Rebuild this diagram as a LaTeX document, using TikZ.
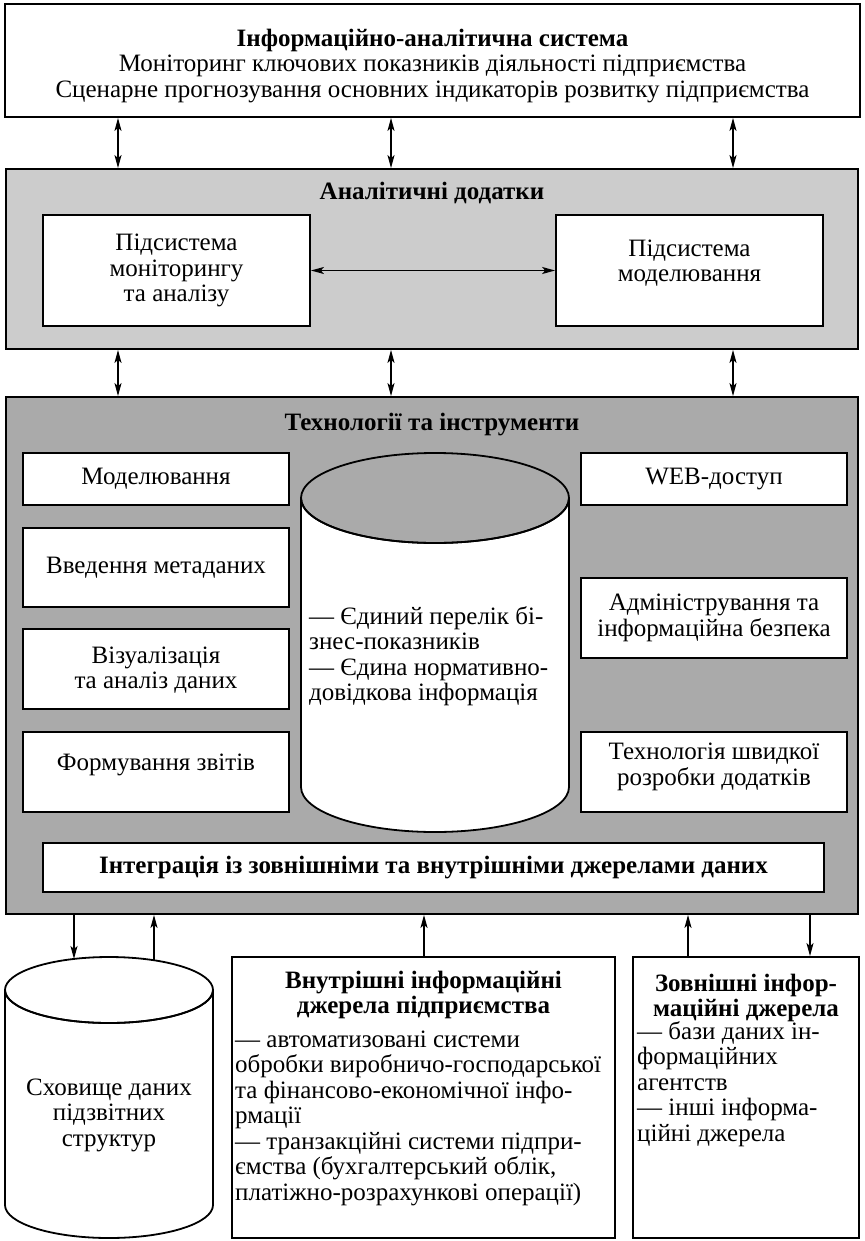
\documentclass[tikz,border=0pt]{standalone}
\usepackage{fontspec}
\setmainfont{Liberation Serif}
\usetikzlibrary{arrows.meta}
\definecolor{greyA}{HTML}{CCCCCC}
\definecolor{greyB}{HTML}{AAAAAA}
\begin{document}
\begin{tikzpicture}[x=1pt,y=-1pt,
  every node/.style={font=\fontsize{25}{25.5}\selectfont, inner sep=0pt},
  box/.style={draw, line width=1.8pt, fill=white},
  panel/.style={draw, line width=1.8pt},
  ttl/.style={font=\fontsize{25}{25}\selectfont\bfseries, align=center},
  arr/.style={-{Stealth[length=13pt,width=7pt,inset=3pt]}, line width=1.4pt},
  darr/.style={{Stealth[length=13pt,width=7pt,inset=3pt]}-{Stealth[length=13pt,width=7pt,inset=3pt]}, line width=1.4pt}
]
\useasboundingbox (0,0) rectangle (864,1241);

% top box
\node[box, minimum width=855pt, minimum height=113pt] (top) at (432.5,60.5) {};
\node[align=center] (toptext) at (432.5,66) {\textbf{Інформаційно-аналітична система}\\Моніторинг ключових показників діяльності підприємства\\Сценарне прогнозування основних індикаторів розвитку підприємства};

% analytic apps panel
\node[panel, fill=greyA, minimum width=852pt, minimum height=180pt] (anal) at (432,259) {};
\node[ttl] (analt) at (432,193) {Аналітичні додатки};
\node[box, minimum width=267pt, minimum height=111pt, align=center] (sub1) at (176.5,270.5) {Підсистема\\моніторингу\\та аналізу};
\node[box, minimum width=267pt, minimum height=111pt] (sub2) at (689.5,270.5) {};
\node[align=center] (sub2t) at (689.5,263) {Підсистема\\моделювання};

% technologies panel
\node[panel, fill=greyB, minimum width=852pt, minimum height=517pt] (tech) at (432,655.5) {};
\node[ttl] (techt) at (432,425) {Технології та інструменти};
\node[box, minimum width=266pt, minimum height=52pt] (l1) at (156,479) {Моделювання};
\node[box, minimum width=266pt, minimum height=79pt] (l2) at (156,567.5) {Введення метаданих};
\node[box, minimum width=266pt, minimum height=80pt] (l3) at (156,669) {};
\node[align=center] (l3t) at (156,670) {Візуалізація\\та аналіз даних};
\node[box, minimum width=266pt, minimum height=80pt] (l4) at (156,772) {};
\node (l4t) at (156,765) {Формування звітів};
\node[box, minimum width=266pt, minimum height=52pt] (r1) at (714,479) {WEB-доступ};
\node[box, minimum width=266pt, minimum height=80pt, align=center] (r2) at (714,618) {Адміністрування та\\інформаційна безпека};
\node[box, minimum width=266pt, minimum height=80pt] (r3) at (714,772) {};
\node[align=center] (r3t) at (714,767) {Технологія швидкої\\розробки додатків};
% central cylinder
\draw[line width=1.8pt, fill=white] (301,498) -- (301,787) arc[start angle=180, end angle=0, x radius=134, y radius=45] -- (569,498) arc[start angle=0, end angle=180, x radius=134, y radius=45] -- cycle;
\draw[line width=1.8pt] (435,498) ellipse[x radius=134, y radius=45];
\node[align=left, anchor=west] (cylt) at (309,656) {— Єдиний перелік бі-\\знес-показників\\— Єдина нормативно-\\довідкова інформація};
\node[box, minimum width=781pt, minimum height=49pt, font=\fontsize{25}{25}\selectfont\bfseries] (integ) at (433.5,867.5) {Інтеграція із зовнішніми та внутрішніми джерелами даних};

% bottom cylinder
\draw[line width=1.8pt, fill=white] (5,990) -- (5,1205) arc[start angle=180, end angle=0, x radius=104, y radius=33] -- (213,990) arc[start angle=0, end angle=180, x radius=104, y radius=33] -- cycle;
\draw[line width=1.8pt] (109,990) ellipse[x radius=104, y radius=33];
\node[align=center] (store) at (109,1115) {Сховище даних\\підзвітних\\структур};
\coordinate (cylA) at (74,959);
\coordinate (cylB) at (154,960);

% internal sources
\node[box, minimum width=383pt, minimum height=281pt] (mid) at (423.5,1097.5) {};
\node[ttl] (midt) at (423.5,995) {Внутрішні інформаційні\\джерела підприємства};
\node[align=left, anchor=west] (midb) at (235,1118) {— автоматизовані системи\\обробки виробничо-господарської\\та фінансово-економічної інфо-\\рмації\\— транзакційні системи підпри-\\ємства (бухгалтерський облік,\\платіжно-розрахункові операції)};

% external sources
\node[box, minimum width=226pt, minimum height=281pt] (ext) at (746,1097.5) {};
\node[ttl] (extt) at (746,997.5) {Зовнішні інфор-\\маційні джерела};
\node[align=left, anchor=west] (extb) at (637,1084) {— бази даних ін-\\формаційних\\агентств\\— інші інформа-\\ційні джерела};

% x positions for connectors
\coordinate (xa) at (118,0);
\coordinate (xb) at (391,0);
\coordinate (xc) at (733,0);
\coordinate (xd) at (424,0);
\coordinate (xe) at (688,0);
\coordinate (xf) at (810,0);

\draw[darr] (top.south -| xa) -- (anal.north -| xa);
\draw[darr] (top.south -| xb) -- (anal.north -| xb);
\draw[darr] (top.south -| xc) -- (anal.north -| xc);
\draw[darr] (sub1.east) -- (sub2.west);
\draw[darr] (anal.south -| xa) -- (tech.north -| xa);
\draw[darr] (anal.south -| xb) -- (tech.north -| xb);
\draw[darr] (anal.south -| xc) -- (tech.north -| xc);

\draw[arr] (tech.south -| cylA) -- (cylA);
\draw[arr] (cylB) -- (tech.south -| cylB);
\draw[arr] (mid.north -| xd) -- (tech.south -| xd);
\draw[arr] (ext.north -| xe) -- (tech.south -| xe);
\draw[arr] (tech.south -| xf) -- (ext.north -| xf);
\end{tikzpicture}
\end{document}
